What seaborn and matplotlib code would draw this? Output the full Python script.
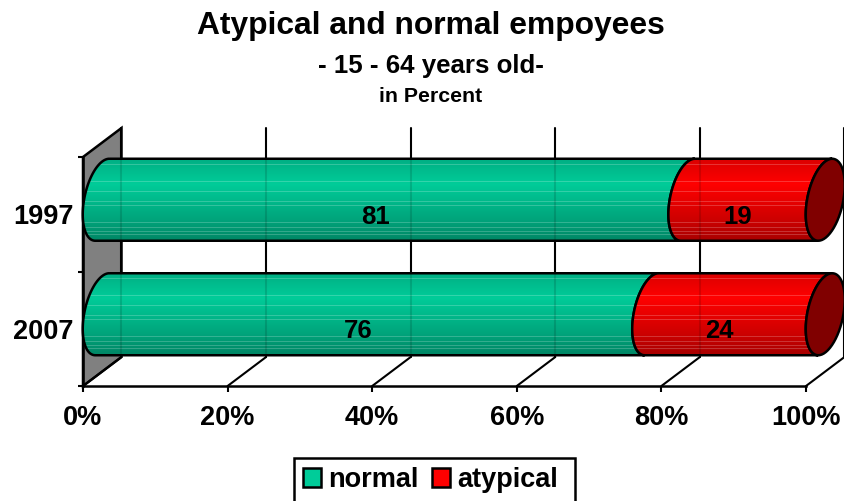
import numpy as np
import pandas as pd
import matplotlib
matplotlib.use("Agg")
import matplotlib.pyplot as plt
import seaborn as sns
from matplotlib.patches import Patch, PathPatch, Polygon, Rectangle
from matplotlib.path import Path
from matplotlib.transforms import IdentityTransform

years = ["1997", "2007"]
normal = [81, 76]
atypical = [19, 24]
x_ticks = [0, 20, 40, 60, 80, 100]
x_tick_labels = ["0%", "20%", "40%", "60%", "80%", "100%"]

GREEN = np.array([0, 204, 153]) / 255
RED = np.array([255, 0, 0]) / 255
DARK_RED = "#800000"
W, H = 845, 501
# 3d look: how far the back wall sits from the front plane, in pixels
DEPTH_X, DEPTH_Y = 38.5, 29
LW = 1.8
FS = 19.5

sns.set_theme(style="white")
plt.rcParams["font.family"] = ["Liberation Sans", "DejaVu Sans"]
plt.rcParams["font.weight"] = "bold"

df = pd.DataFrame({"year": years, "normal": normal, "atypical": atypical})

fig = plt.figure(figsize=(W / 100, H / 100), dpi=100)
ax = fig.add_axes([83 / W, (H - 386) / H, (806 - 83) / W, (386 - 157) / H])

bar_h = 82 / 114.5
sns.barplot(data=df, y="year", x="normal", orient="h", color=GREEN, width=bar_h, ax=ax)
sns.barplot(data=df, y="year", x="atypical", orient="h", color=RED, width=bar_h,
            left=df["normal"].values, ax=ax)
ax.set_xlim(0, 100)
ax.set_ylim(1.5, -0.5)
ax.set_autoscale_on(False)
ax.set_xlabel("")
ax.set_ylabel("")
ax.set_facecolor("none")
fig.canvas.draw()

px = IdentityTransform()


def to_px(x, y):
    return ax.transData.transform((x, y))


# grey side wall
bl, tl = to_px(0, 1.5), to_px(0, -0.5)
ax.add_patch(Polygon([bl, tl, tl + (DEPTH_X, DEPTH_Y), bl + (DEPTH_X, DEPTH_Y)], closed=True,
                     transform=px, facecolor="#808080", edgecolor="black", lw=LW,
                     clip_on=False, zorder=0.5))

# gridlines on the back wall and their feet on the floor
for v in x_ticks:
    b = to_px(v, 1.5)
    t = to_px(v, -0.5)
    ax.plot([b[0], b[0] + DEPTH_X], [b[1], b[1] + DEPTH_Y], color="black", lw=1.5,
            transform=px, clip_on=False, zorder=1)
    ax.plot([b[0] + DEPTH_X] * 2, [b[1] + DEPTH_Y, t[1] + DEPTH_Y], color="black", lw=1.5,
            transform=px, clip_on=False, zorder=1)


def shade(base):
    # dark at the bottom, brightest a third of the way down, thin light streaks
    fracs = np.linspace(0, 1, 82)
    k = np.interp(fracs, [0, 0.3, 0.75, 1], [0.86, 1, 0.8, 0.66])
    rows = k[:, None] * base
    for f in [0.07, 0.28, 0.40, 0.52, 0.58, 0.79, 0.84, 0.89, 0.93]:
        i = int(f * 81)
        rows[i] = rows[i] * 0.8 + 0.2
    return rows[:, None, :]


def half_ellipse(cx, cy, start, stop):
    t = np.radians(np.linspace(start, stop, 60))
    return np.column_stack([cx + 18.2 * np.cos(t) + 7 * np.sin(t), cy + 41 * np.sin(t)])


def cylinder(rect, base, z):
    x0, x1 = rect.get_x(), rect.get_x() + rect.get_width()
    yc = rect.get_y() + rect.get_height() / 2
    a = to_px(x0, yc) + (DEPTH_X / 2, DEPTH_Y / 2)
    b = to_px(x1, yc) + (DEPTH_X / 2, DEPTH_Y / 2)
    pts = np.vstack([half_ellipse(a[0], a[1], 90, 270), half_ellipse(b[0], b[1], 270, 90)])
    path = Path(np.vstack([pts, pts[:1]]))
    im = ax.imshow(shade(base), extent=(a[0] - 25, b[0] + 25, a[1] - 41, a[1] + 41),
                   origin="upper", aspect="auto", transform=px, zorder=z,
                   interpolation="nearest")
    ax.add_patch(PathPatch(path, transform=px, facecolor="none", edgecolor="black", lw=LW,
                           clip_on=False, zorder=z + 0.05))
    im.set_clip_box(fig.bbox)
    im.set_clip_path(PathPatch(path, transform=px))
    return b


n_rects = list(ax.containers[0])
a_rects = list(ax.containers[1])
for rect in n_rects:
    cylinder(rect, GREEN, 2)
for rect in a_rects:
    end = cylinder(rect, RED, 2.2)
    cap = half_ellipse(end[0], end[1], 0, 360)
    ax.add_patch(Polygon(cap, closed=True, transform=px, facecolor=DARK_RED, edgecolor="black",
                         lw=LW, clip_on=False, zorder=2.4))
for rect in n_rects + a_rects:
    rect.set_visible(False)

# gridlines faintly show through the bars
for v in x_ticks[:-1]:
    b = to_px(v, 1.5)
    for cat in [0, 1]:
        mid = to_px(v, cat)[1] + DEPTH_Y / 2
        ax.plot([b[0] + DEPTH_X] * 2, [mid - 40, mid + 40], color="black", lw=1.5, alpha=0.13,
                transform=px, clip_on=False, zorder=2.3)

for cont in ax.containers:
    labels = ax.bar_label(cont, label_type="center", fontsize=18.5, fontweight="bold",
                          color="black", zorder=5)
    for lab in labels:
        lab.set_va("center_baseline")

sns.despine(ax=ax, top=True, right=True)
for side in ["left", "bottom"]:
    ax.spines[side].set_color("black")
    ax.spines[side].set_linewidth(LW)
    ax.spines[side].set_zorder(1.5)

ax.set_xticks(x_ticks, x_tick_labels, fontsize=FS, fontweight="bold", color="black")
ax.set_yticks([0, 1], years, fontsize=FS, fontweight="bold", color="black")
ax.set_yticks([-0.5, 0.5, 1.5], minor=True)
ax.tick_params(axis="x", which="major", bottom=True, length=4, width=1.5, color="black", pad=10)
ax.tick_params(axis="y", which="major", left=False, length=0, pad=7)
ax.tick_params(axis="y", which="minor", left=True, length=3.5, width=1.5, color="black")

fig.text(431 / W, 1 - 26 / H, "Atypical and normal empoyees", ha="center", va="center",
         fontsize=22.9, fontweight="bold", color="black")
fig.text(431 / W, 1 - 66 / H, "- 15 - 64 years old-", ha="center", va="center",
         fontsize=18.6, fontweight="bold", color="black")
fig.text(431 / W, 1 - 96 / H, "in Percent", ha="center", va="center",
         fontsize=15.3, fontweight="bold", color="black")

# legend box runs off the bottom of the picture, so the frame is its own patch
fig.add_artist(Rectangle((294, -5), 281, H - 458 + 5, transform=px, facecolor="white",
                         edgecolor="black", lw=LW, zorder=3))
handles = [Patch(facecolor=GREEN, edgecolor="black", lw=LW, label="normal"),
           Patch(facecolor=RED, edgecolor="black", lw=LW, label="atypical")]
leg = fig.legend(handles=handles, ncol=2, loc="center left", bbox_to_anchor=(294 / W, 1 - 480 / H),
                 fontsize=FS, frameon=False, labelcolor="black",
                 handlelength=0.66, handleheight=0.66, handletextpad=0.28, columnspacing=0.5,
                 borderpad=0.32, borderaxespad=0)
leg.set_zorder(4)

fig.savefig("out.png", dpi=100)
